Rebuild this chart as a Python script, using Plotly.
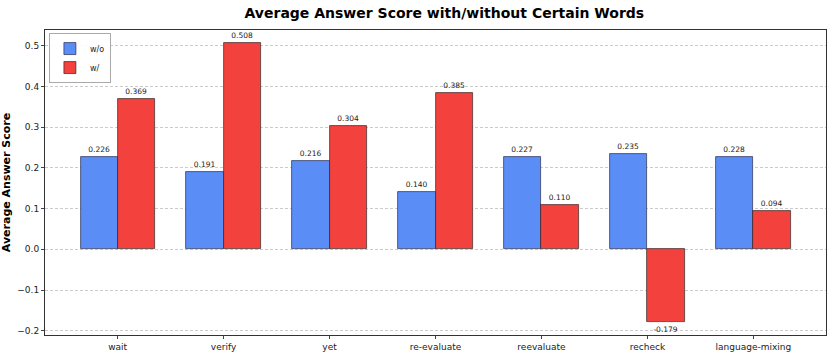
import plotly.graph_objects as go

categories = ["wait", "verify", "yet", "re-evaluate", "reevaluate", "recheck", "language-mixing"]
without_vals = [0.226, 0.191, 0.216, 0.140, 0.227, 0.235, 0.228]
with_vals = [0.369, 0.508, 0.304, 0.385, 0.110, -0.179, 0.094]
y_ticks = [-0.2, -0.1, 0.0, 0.1, 0.2, 0.3, 0.4, 0.5]

x = list(range(len(categories)))
w = 0.35
font = "DejaVu Sans"

fig = go.Figure()
fig.add_trace(go.Bar(
    x=[i - w / 2 for i in x], y=without_vals, width=w, name="w/o",
    marker=dict(color="#5B8DF7", line=dict(color="rgba(30,30,60,0.8)", width=0.8)),
    text=[f"{v:.3f}" for v in without_vals], textposition="outside",
    textfont=dict(size=7.5, color="#222", family=font), cliponaxis=False,
))
fig.add_trace(go.Bar(
    x=[i + w / 2 for i in x], y=with_vals, width=w, name="w/",
    marker=dict(color="#F3413E", line=dict(color="rgba(30,30,30,0.8)", width=0.8)),
    text=[f"{v:.3f}" for v in with_vals], textposition="outside",
    textfont=dict(size=7.5, color="#222", family=font), cliponaxis=False,
))

fig.update_layout(
    width=840, height=359,
    margin=dict(l=45, r=14, t=30, b=24, autoexpand=False),
    paper_bgcolor="white", plot_bgcolor="white",
    font=dict(family=font, size=9, color="#222"),
    title=dict(text="<b>Average Answer Score with/without Certain Words</b>",
               x=0.529, xanchor="center", yref="container", y=0.964, yanchor="middle",
               font=dict(size=14, color="black", family=font)),
    barmode="overlay", bargap=0,
    showlegend=True,
    legend=dict(x=0.005, y=0.99, xanchor="left", yanchor="top",
                bgcolor="rgba(255,255,255,0.9)", bordercolor="#aaa", borderwidth=1,
                font=dict(size=8, family=font), itemwidth=30, tracegroupgap=0),
    uniformtext=dict(minsize=7.5, mode="show"),
)
fig.update_xaxes(
    range=[-0.685, 6.685], tickmode="array", tickvals=x, ticktext=categories,
    showgrid=False, zeroline=False, showline=True, linecolor="#333", linewidth=1,
    mirror=True, ticks="outside", ticklen=3, tickfont=dict(size=9), automargin=False,
)
fig.update_yaxes(
    range=[-0.2105, 0.539], tickmode="array", tickvals=y_ticks,
    ticktext=["\u22120.2", "\u22120.1", "0.0", "0.1", "0.2", "0.3", "0.4", "0.5"],
    showgrid=True, gridcolor="rgba(190,190,190,0.8)", griddash="3px,2px", gridwidth=0.6,
    zeroline=False, showline=True, linecolor="#333", linewidth=1, mirror=True,
    ticks="outside", ticklen=3, tickfont=dict(size=9), automargin=False,
    title=dict(text="<b>Average Answer Score</b>", font=dict(size=11, color="black")),
)

fig.write_html("out.html", config={"displayModeBar": False},
               post_script="document.body.style.margin='0';")
